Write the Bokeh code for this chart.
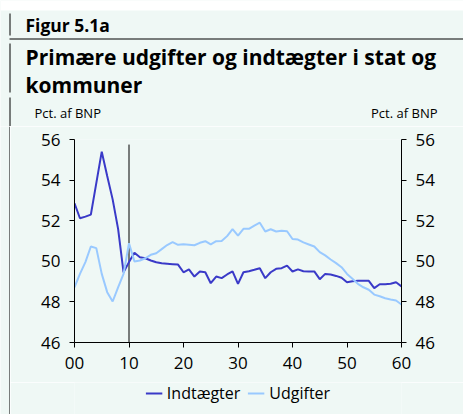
from bokeh.plotting import figure
from bokeh.layouts import column, row
from bokeh.models import LinearAxis, FixedTicker, Legend, LegendItem, Range1d
from bokeh.core.properties import value
from bokeh.embed import file_html
from bokeh.resources import INLINE

# ---------------- data ----------------
years = list(range(0, 61))
tick_values = [0, 10, 20, 30, 40, 50, 60]
tick_labels = ["00", "10", "20", "30", "40", "50", "60"]
y_ticks = [46, 48, 50, 52, 54, 56]

indtaegter = [52.86, 52.12, 52.2, 52.3, 53.85, 55.4, 54.2, 53.05, 51.6, 49.46,
              49.96, 50.42, 50.2, 50.15, 50.04, 49.95, 49.9, 49.88, 49.86, 49.84,
              49.46, 49.6, 49.25, 49.5, 49.46, 48.92, 49.25, 49.17, 49.35, 49.5,
              48.89, 49.46, 49.51, 49.58, 49.66, 49.17, 49.46, 49.63, 49.66, 49.79,
              49.5, 49.6, 49.51, 49.5, 49.5, 49.12, 49.38, 49.35, 49.28, 49.19,
              48.97, 49.02, 49.04, 49.04, 49.04, 48.68, 48.87, 48.87, 48.89, 48.97,
              48.76]
udgifter = [48.72, 49.38, 49.96, 50.73, 50.65, 49.38, 48.48, 48.02, 48.72, 49.38,
            50.89, 49.99, 50.04, 50.15, 50.32, 50.4, 50.6, 50.8, 50.94, 50.81,
            50.84, 50.82, 50.79, 50.91, 50.99, 50.83, 50.99, 51.0, 51.24, 51.58,
            51.26, 51.6, 51.6, 51.76, 51.9, 51.47, 51.58, 51.47, 51.5, 51.48,
            51.1, 51.07, 50.93, 50.83, 50.73, 50.45, 50.29, 50.09, 49.91, 49.71,
            49.38, 49.14, 48.89, 48.72, 48.6, 48.36, 48.28, 48.18, 48.12, 48.07,
            47.87]
marker_year = 10
marker_top = 55.75

title_small = "Figur 5.1a"
title_lines = ["Primære udgifter og indtægter i stat og", "kommuner"]
unit_label = "Pct. af BNP"
series_names = ["Indtægter", "Udgifter"]
colors = ["#3a3ac8", "#99c9ff"]

BG = "#eff8f5"
FONT = "Open Sans"
W, H_HEAD, H_MAIN, H_LEG, STRIP = 463, 126, 256, 32, 10


def blank(width, height, xr, yr):
    f = figure(width=width, height=height, output_backend="svg", toolbar_location=None,
               x_range=xr, y_range=yr, x_axis_type=None, y_axis_type=None, min_border=0)
    f.background_fill_color = BG
    f.border_fill_color = BG
    f.outline_line_color = None
    f.grid.visible = False
    return f


# ---------------- header (titles, rules, unit labels) ----------------
head = blank(W, H_HEAD, Range1d(0, W), Range1d(H_HEAD, 0))
head.quad(left=[0], right=[W], top=[0], bottom=[10], fill_color="white", line_color=None)
head.segment(x0=[9.5, 9.5, 9.5, 9], y0=[13, 43, 97, 38.5], x1=[9.5, 9.5, 9.5, W], y1=[35, 92, H_HEAD, 38.5],
             line_color="black", line_width=1)
head.text(x=[25], y=[24.5], text=[title_small], text_font=value(FONT), text_font_style="bold",
          text_font_size="17.5px", text_baseline="alphabetic", text_color="black")
head.text(x=[25, 25], y=[56.5, 84], text=title_lines, text_font=value(FONT), text_font_style="bold",
          text_font_size="21px", text_baseline="alphabetic", text_color="black")
head.text(x=[34], y=[112], text=[unit_label], text_font=value(FONT),
          text_font_size="13px", text_baseline="alphabetic", text_color="black")
head.text(x=[437], y=[112], text=[unit_label], text_font=value(FONT), text_align="right",
          text_font_size="13px", text_baseline="alphabetic", text_color="black")

# ---------------- left strip (frame rule) ----------------
strip = blank(STRIP, H_MAIN + H_LEG, Range1d(0, STRIP), Range1d(H_MAIN + H_LEG, 0))
strip.segment(x0=[9.5], y0=[0], x1=[9.5], y1=[H_MAIN + H_LEG], line_color="black", line_width=1)

# ---------------- main chart ----------------
p = figure(width=W - STRIP, height=H_MAIN, output_backend="svg", toolbar_location=None,
           x_range=Range1d(0, 60), y_range=Range1d(46, 56),
           frame_width=327, frame_height=203,
           min_border_left=64, min_border_right=62, min_border_top=13, min_border_bottom=40)
p.background_fill_color = BG
p.border_fill_color = BG
p.outline_line_color = None
p.grid.visible = False

p.xaxis.ticker = FixedTicker(ticks=tick_values)
p.xaxis.major_label_overrides = {v: l for v, l in zip(tick_values, tick_labels)}
p.yaxis.ticker = FixedTicker(ticks=y_ticks)
right = LinearAxis(ticker=FixedTicker(ticks=y_ticks))
p.add_layout(right, "right")

for ax in p.axis:
    ax.axis_line_color = "black"
    ax.major_tick_line_color = "black"
    ax.major_tick_out = 5
    ax.major_tick_in = 0
    ax.minor_tick_line_color = None
    ax.major_label_text_font = FONT
    ax.major_label_text_font_size = "17px"
    ax.major_label_text_color = "black"
    ax.major_label_standoff = 9

p.segment(x0=[marker_year], y0=[46], x1=[marker_year], y1=[marker_top], line_color="black", line_width=1)

p.line(years, indtaegter, line_color=colors[0], line_width=2)
p.line(years, udgifter, line_color=colors[1], line_width=2)

# ---------------- legend strip ----------------
# the series are re-plotted here outside this strip's visible range, only to feed the legend
leg = blank(W - STRIP, H_LEG, Range1d(0, 60), Range1d(0, 1))
k1 = leg.line(years, indtaegter, line_color=colors[0], line_width=2)
k2 = leg.line(years, udgifter, line_color=colors[1], line_width=2)
legend = Legend(items=[LegendItem(label=series_names[0], renderers=[k1]),
                       LegendItem(label=series_names[1], renderers=[k2])],
                orientation="horizontal", location="top_center",
                border_line_color=None, background_fill_alpha=0,
                padding=0, margin=0, spacing=7, glyph_width=17, label_standoff=5,
                label_text_color="black",
                label_text_font=FONT, label_text_font_size="16px")
leg.add_layout(legend, "center")

layout = column(head, row(strip, column(p, leg, spacing=0), spacing=0), spacing=0)
open("out.html", "w").write(file_html(layout, INLINE))
